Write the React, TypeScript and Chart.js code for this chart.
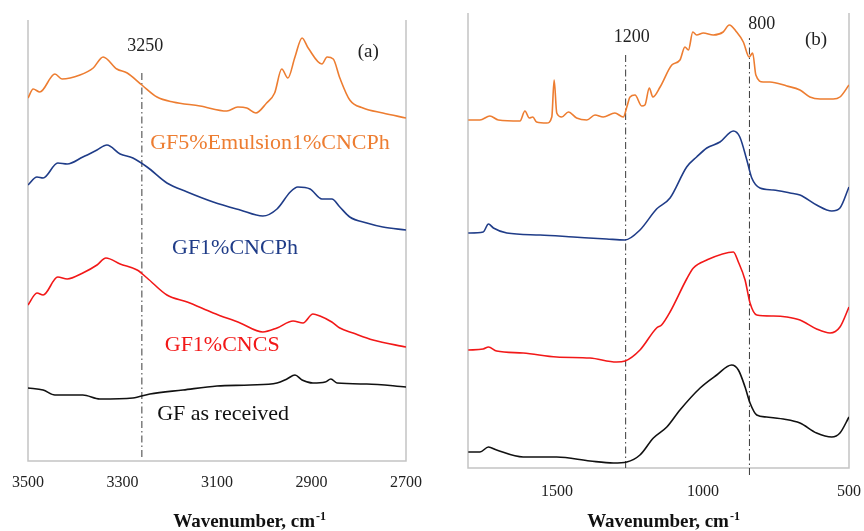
import React, { useEffect, useRef } from "react";
import { Chart, registerables } from "chart.js";
Chart.register(...registerables);

// ---------- Panel (a): 3500–2700 cm-1 ----------
const A_TICKS = [3500, 3300, 3100, 2900, 2700];
const A_ORANGE_X = [3500, 3489, 3475, 3443, 3428, 3390, 3362, 3341, 3312, 3290, 3259, 3227, 3193, 3136, 3079, 3056, 3037, 3018, 2995, 2978, 2963, 2950, 2935, 2920, 2907, 2878, 2867, 2854, 2840, 2819, 2791, 2749, 2700];
const A_ORANGE_Y = [363, 372, 369, 387, 382, 386, 393, 404, 392, 388, 376, 364, 359, 355, 350, 354, 353, 348, 358, 368, 392, 383, 404, 423, 413, 397, 404, 402, 383, 361, 353, 348, 343];
const A_NAVY_X = [3500, 3481, 3468, 3437, 3417, 3384, 3354, 3333, 3305, 3278, 3248, 3206, 3163, 3108, 3051, 3003, 2973, 2945, 2929, 2903, 2878, 2857, 2840, 2819, 2783, 2749, 2700];
const A_NAVY_Y = [276, 284, 283, 298, 297, 304, 311, 316, 307, 303, 294, 278, 269, 259, 251, 245, 252, 269, 274, 272, 262, 262, 254, 244, 238, 234, 231];
const A_RED_X = [3500, 3481, 3468, 3437, 3417, 3384, 3354, 3335, 3305, 3269, 3248, 3206, 3163, 3108, 3051, 3003, 2973, 2939, 2918, 2897, 2882, 2857, 2840, 2812, 2770, 2700];
const A_RED_Y = [156, 168, 166, 184, 182, 188, 196, 203, 197, 191, 183, 166, 159, 148, 138, 129, 133, 140, 138, 147, 145, 139, 133, 128, 121, 114];
const A_BLACK_X = [3500, 3468, 3443, 3384, 3348, 3278, 3242, 3172, 3100, 3030, 2973, 2952, 2935, 2920, 2897, 2871, 2859, 2846, 2783, 2700];
const A_BLACK_Y = [73, 71, 66, 66, 62, 63, 67, 71, 75, 76, 78, 82, 86, 81, 78, 79, 82, 78, 77, 74];
const A_MARK = 3259;

// ---------- Panel (b): 1800–500 cm-1 ----------
const B_TICKS = [1500, 1000, 500];
const B_ORANGE_X = [1804, 1764, 1730, 1701, 1627, 1610, 1595, 1583, 1570, 1535, 1518, 1510, 1501, 1484, 1461, 1433, 1398, 1370, 1342, 1302, 1273, 1261, 1250, 1233, 1210, 1199, 1184, 1172, 1147, 1107, 1079, 1062, 1050, 1035, 1022, 999, 965, 931, 910, 885, 862, 842, 830, 819, 794, 771, 713, 668, 634, 599, 554, 531, 500];
const B_ORANGE_Y = [348, 348, 352, 348, 347, 357, 350, 351, 346, 345, 351, 388, 355, 351, 356, 350, 348, 353, 351, 355, 351, 361, 371, 373, 362, 363, 380, 371, 381, 403, 408, 421, 418, 436, 433, 435, 433, 436, 443, 436, 426, 411, 415, 393, 386, 386, 382, 378, 371, 369, 369, 371, 383];
const B_NAVY_X = [1804, 1753, 1735, 1718, 1672, 1558, 1444, 1330, 1267, 1216, 1159, 1113, 1056, 1022, 987, 942, 896, 874, 850, 833, 805, 759, 702, 668, 611, 559, 531, 500];
const B_NAVY_Y = [235, 236, 244, 240, 235, 233, 231, 229, 228, 238, 259, 270, 301, 311, 320, 326, 337, 331, 308, 290, 280, 278, 275, 273, 263, 257, 260, 281];
const B_RED_X = [1804, 1753, 1735, 1707, 1616, 1501, 1387, 1296, 1267, 1216, 1159, 1142, 1113, 1056, 1033, 987, 896, 879, 856, 839, 816, 759, 713, 668, 611, 565, 531, 500];
const B_RED_Y = [118, 119, 121, 117, 115, 111, 110, 106, 107, 118, 140, 143, 156, 189, 200, 208, 216, 206, 188, 165, 153, 152, 151, 148, 139, 135, 141, 161];
const B_BLACK_X = [1804, 1764, 1735, 1707, 1616, 1501, 1387, 1307, 1261, 1216, 1170, 1124, 1079, 1010, 953, 902, 879, 856, 839, 816, 782, 725, 668, 611, 559, 531, 500];
const B_BLACK_Y = [16, 16, 21, 18, 11, 11, 7, 5, 6, 13, 30, 41, 58, 80, 93, 103, 98, 81, 65, 53, 51, 49, 45, 35, 31, 35, 51];
const B_MARK_1200 = 1265;
const B_MARK_800 = 841;

const ORANGE = "#ED7D31";
const NAVY = "#1F3C88";
const RED = "#F21818";
const BLACK = "#111111";
const FRAME = "#C4C4C4";
const FONT = '"Liberation Serif", "Times New Roman", serif';

const pts = (xs: number[], ys: number[]) => xs.map((x, i) => ({ x, y: ys[i] }));

const series = (xs: number[], ys: number[], color: string) => ({
  data: pts(xs, ys),
  borderColor: color,
  borderWidth: 1.6,
  pointRadius: 0,
  cubicInterpolationMode: "monotone" as const,
  fill: false,
});

const marker = (x: number, y0: number, y1: number) => ({
  data: [{ x, y: y0 }, { x, y: y1 }],
  borderColor: "#3a3a3a",
  borderWidth: 1,
  borderDash: [7, 3, 1.5, 3],
  pointRadius: 0,
  clip: false as const,
  fill: false,
});

type Label = { text: string; x: number; y: number; size: number; color: string };

type Spec = {
  xMin: number;
  xMax: number;
  yMax: number;
  padding: { left: number; right: number; top: number; bottom: number };
  ticks: number[];
  tickBaseline: number;
  titleX: number;
  titleBaseline: number;
  datasets: any[];
  labels: Label[];
};

const SPEC_A: Spec = {
  xMin: 2700,
  xMax: 3500,
  yMax: 441,
  padding: { left: 28, right: 26, top: 20, bottom: 70 },
  ticks: A_TICKS,
  tickBaseline: 26,
  titleX: 3032,
  titleBaseline: 66,
  datasets: [
    series(A_ORANGE_X, A_ORANGE_Y, ORANGE),
    series(A_NAVY_X, A_NAVY_Y, NAVY),
    series(A_RED_X, A_RED_Y, RED),
    series(A_BLACK_X, A_BLACK_Y, BLACK),
    marker(A_MARK, 4, 391),
  ],
  labels: [
    { text: "3250", x: 3252, y: 415, size: 18, color: "#222" },
    { text: "(a)", x: 2780, y: 409, size: 19, color: "#222" },
    { text: "GF5%Emulsion1%CNCPh", x: 2988, y: 318, size: 22, color: ORANGE },
    { text: "GF1%CNCPh", x: 3062, y: 213, size: 22, color: NAVY },
    { text: "GF1%CNCS", x: 3089, y: 116, size: 22, color: RED },
    { text: "GF as received", x: 3087, y: 47, size: 22, color: BLACK },
  ],
};

const SPEC_B: Spec = {
  xMin: 500,
  xMax: 1805,
  yMax: 455,
  padding: { left: 36, right: 15, top: 13, bottom: 63 },
  ticks: B_TICKS,
  tickBaseline: 28,
  titleX: 1137,
  titleBaseline: 59,
  datasets: [
    series(B_ORANGE_X, B_ORANGE_Y, ORANGE),
    series(B_NAVY_X, B_NAVY_Y, NAVY),
    series(B_RED_X, B_RED_Y, RED),
    series(B_BLACK_X, B_BLACK_Y, BLACK),
    marker(B_MARK_1200, 0, 415),
    marker(B_MARK_800, -7, 430),
  ],
  labels: [
    { text: "1200", x: 1244, y: 431, size: 18, color: "#222" },
    { text: "800", x: 799, y: 444, size: 18, color: "#222" },
    { text: "(b)", x: 613, y: 428, size: 19, color: "#222" },
  ],
};

const decorPlugin = (spec: Spec) => ({
  id: "decor",
  beforeDatasetsDraw(chart: any) {
    const { ctx, chartArea } = chart;
    ctx.save();
    ctx.strokeStyle = FRAME;
    ctx.lineWidth = 1.5;
    ctx.beginPath();
    ctx.moveTo(chartArea.left, chartArea.top);
    ctx.lineTo(chartArea.left, chartArea.bottom);
    ctx.lineTo(chartArea.right, chartArea.bottom);
    ctx.lineTo(chartArea.right, chartArea.top);
    ctx.stroke();
    ctx.restore();
  },
  afterDraw(chart: any) {
    const { ctx, chartArea, scales } = chart;
    const xs = scales.x;
    const ys = scales.y;
    ctx.save();
    // tick labels
    ctx.fillStyle = "#222";
    ctx.font = `16px ${FONT}`;
    ctx.textAlign = "center";
    ctx.textBaseline = "alphabetic";
    spec.ticks.forEach((t) => {
      ctx.fillText(String(t), xs.getPixelForValue(t), chartArea.bottom + spec.tickBaseline);
    });
    // axis title with superscript
    const main = "Wavenumber, cm";
    const sup = "-1";
    ctx.font = `bold 19px ${FONT}`;
    const w1 = ctx.measureText(main).width;
    ctx.font = `bold 12px ${FONT}`;
    const w2 = ctx.measureText(sup).width;
    const cx = xs.getPixelForValue(spec.titleX);
    const base = chartArea.bottom + spec.titleBaseline;
    const start = cx - (w1 + w2) / 2;
    ctx.textAlign = "left";
    ctx.fillStyle = "#111";
    ctx.font = `bold 19px ${FONT}`;
    ctx.fillText(main, start, base);
    ctx.font = `bold 12px ${FONT}`;
    ctx.fillText(sup, start + w1 + 1, base - 7);
    // annotations
    ctx.textAlign = "center";
    ctx.textBaseline = "middle";
    spec.labels.forEach((l) => {
      ctx.font = `${l.size}px ${FONT}`;
      ctx.fillStyle = l.color;
      ctx.fillText(l.text, xs.getPixelForValue(l.x), ys.getPixelForValue(l.y));
    });
    ctx.restore();
  },
});

function Panel({ spec, left }: { spec: Spec; left: number }) {
  const ref = useRef<HTMLCanvasElement>(null);
  useEffect(() => {
    if (!ref.current) return;
    const chart = new Chart(ref.current, {
      type: "line",
      data: { datasets: spec.datasets },
      options: {
        responsive: false,
        animation: false,
        devicePixelRatio: 1,
        layout: { padding: spec.padding },
        plugins: { legend: { display: false }, tooltip: { enabled: false } },
        events: [],
        scales: {
          x: { type: "linear", min: spec.xMin, max: spec.xMax, reverse: true, display: false },
          y: { type: "linear", min: 0, max: spec.yMax, display: false },
        },
      },
      plugins: [decorPlugin(spec)],
    } as any);
    return () => chart.destroy();
  }, [spec]);
  return (
    <canvas
      ref={ref}
      width={432}
      height={531}
      style={{ position: "absolute", left, top: 0, width: 432, height: 531 }}
    />
  );
}

export default function App() {
  return (
    <div style={{ position: "absolute", left: 0, top: 0, width: 864, height: 531, background: "#fff", overflow: "hidden" }}>
      <Panel spec={SPEC_A} left={0} />
      <Panel spec={SPEC_B} left={432} />
    </div>
  );
}
